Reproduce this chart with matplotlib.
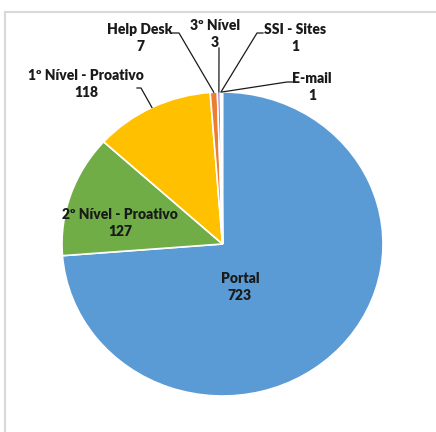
import matplotlib.pyplot as plt
from matplotlib.lines import Line2D
import numpy as np

# Tickets per service channel
categories = ["Portal", "2º Nível - Proativo", "1º Nível - Proativo",
              "Help Desk", "3º Nível", "SSI - Sites", "E-mail"]
counts = [723, 127, 118, 7, 3, 1, 1]
colors = ["#5B9BD5", "#70AD47", "#FFC000", "#ED7D31",
          "#9E74C8", "#A9C6EA", "#DCE6F2"]

W, H = 436, 432
CX, CY = 222.5, 244
RX, RY = 160.5, 152


def px(x, y):
    # pixel position -> data coords of the unit pie
    return (x - CX) / RX, (CY - y) / RY


# label centre and the elbow points of the leader line (None = inside label)
label_pos = {
    "Portal": ((240, 287), None),
    "2º Nível - Proativo": ((120, 223), None),
    "1º Nível - Proativo": ((86, 84), [(137, 88), (141, 88)]),
    "Help Desk": ((140, 38), [(172, 33), (179, 33)]),
    "3º Nível": ((215, 34), [(219, 48)]),
    "SSI - Sites": ((295, 38), [(263, 33), (257, 33)]),
    "E-mail": ((312, 87), [(293, 82), (287, 82)]),
}


def main():
    fig = plt.figure(figsize=(W / 100, H / 100), dpi=100)
    ax = fig.add_axes([0, 0, 1, 1])
    wedges, _ = ax.pie(counts, colors=colors, startangle=90, counterclock=False,
                       wedgeprops=dict(edgecolor="white", linewidth=1.2))
    ax.set_aspect("auto")
    ax.set_xlim(-CX / RX, (W - CX) / RX)
    ax.set_ylim((CY - H) / RY, CY / RY)
    ax.axis("off")

    for w, name, n in zip(wedges, categories, counts):
        (tx, ty), elbow = label_pos[name]
        ax.text(*px(tx, ty), f"{name}\n{n}", ha="center", va="center",
                fontsize=10, fontweight="heavy", linespacing=1.45,
                family=["Lato", "DejaVu Sans"], color="#1a1a1a", zorder=5)
        if elbow:
            mid = np.deg2rad((w.theta1 + w.theta2) / 2)
            pts = [px(x, y) for x, y in elbow] + [(np.cos(mid), np.sin(mid))]
            xs, ys = zip(*pts)
            ax.plot(xs, ys, color="#1a1a1a", lw=0.9, zorder=4)

    # light chart-area border (top and left edges visible)
    fig.add_artist(Line2D([5 / W, 1], [1 - 12 / H] * 2, color="#D9D9D9", lw=1.5))
    fig.add_artist(Line2D([5 / W] * 2, [0, 1 - 12 / H], color="#D9D9D9", lw=1.5))

    fig.savefig("out.png", dpi=100)


if __name__ == "__main__":
    main()
